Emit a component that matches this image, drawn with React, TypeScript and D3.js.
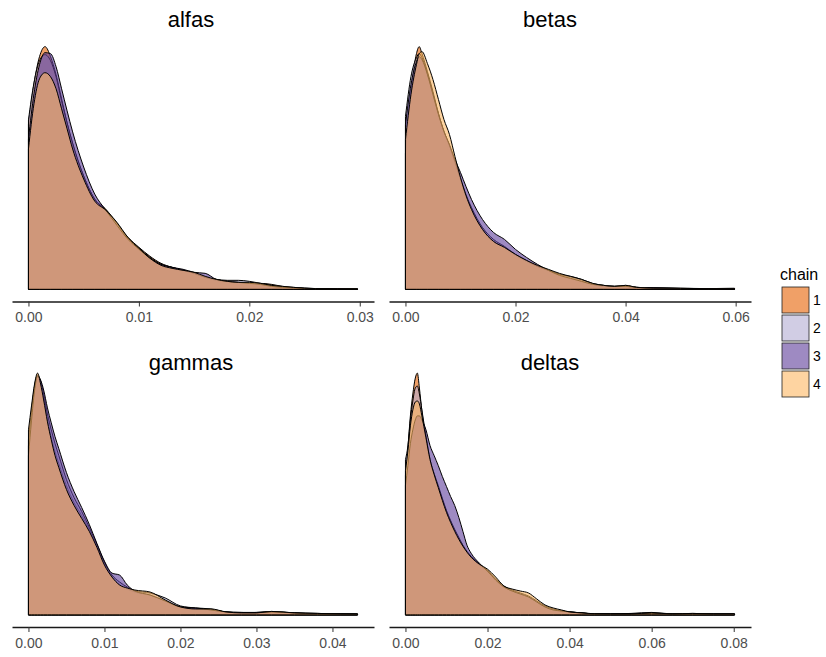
import React, { useRef, useEffect } from "react";
import * as d3 from "d3";

// chain colours (PuOr) and names
const chains = ["1", "2", "3", "4"];
const chainColors = ["#e66101", "#b2abd2", "#5e3c99", "#fdb863"];

// alfas: density per chain
const alfasX = [0, 0.0005, 0.001, 0.0015, 0.002, 0.0025, 0.003, 0.0035, 0.004, 0.005, 0.006, 0.007, 0.008, 0.009, 0.010, 0.011, 0.012, 0.013, 0.014, 0.015, 0.016, 0.017, 0.018, 0.019, 0.020, 0.021, 0.022, 0.023, 0.024, 0.025, 0.026, 0.028, 0.0298];
const alfas1 = [165, 205, 232, 242, 232, 214, 190, 166, 145, 113, 90, 80, 66, 52, 42, 33, 26, 22, 19, 16, 12, 9, 8, 7, 6, 6, 5, 3, 2, 1.2, 0.8, 0.5, 0.4];
const alfas2 = [169, 206, 228, 234, 228, 212, 188, 166, 146, 113, 90, 79, 66, 51, 41, 32, 25, 22, 19, 16, 12, 10, 9, 9, 8, 6, 4, 2.5, 1.5, 1, 0.8, 0.6, 0.5];
const alfas3 = [150, 195, 224, 236, 235, 222, 200, 178, 157, 122, 95, 79, 64, 50, 40, 31, 25, 22, 20, 17, 16, 10, 8, 7, 6, 5, 3, 2, 1.5, 1, 0.7, 0.5, 0.3];
const alfas4 = [140, 185, 210, 216, 212, 200, 180, 160, 140, 110, 88, 79, 67, 52, 41, 31, 24, 21, 19, 17, 13, 10, 8, 7, 7, 6, 4, 3, 2, 1.2, 0.8, 0.6, 0.5];
const alfasTicks = [0, 0.01, 0.02, 0.03];

// betas
const betasX = [0, 0.001, 0.002, 0.0025, 0.003, 0.004, 0.005, 0.006, 0.007, 0.008, 0.009, 0.010, 0.011, 0.012, 0.014, 0.016, 0.018, 0.020, 0.022, 0.024, 0.026, 0.028, 0.030, 0.032, 0.034, 0.036, 0.038, 0.040, 0.042, 0.045, 0.050, 0.055, 0.0598];
const betas1 = [136, 198, 236, 243, 236, 218, 198, 176, 158, 144, 127, 110, 93, 80, 60, 48, 42, 34, 28, 23, 19, 15, 12, 9, 5, 3, 3, 4, 2, 1.5, 1, 0.7, 0.8];
const betas2 = [173, 213, 232, 236, 232, 216, 196, 176, 158, 144, 128, 111, 95, 82, 62, 50, 43, 35, 29, 23, 19, 15, 13, 10, 6, 4, 3, 3, 2, 1.5, 1, 0.8, 1];
const betas3 = [165, 205, 228, 233, 230, 215, 195, 175, 158, 145, 130, 117, 103, 90, 70, 57, 50, 40, 32, 25, 19, 14, 11, 8, 5, 4, 3, 3, 2, 1.5, 1, 0.8, 1];
const betas4 = [150, 195, 225, 236, 238, 226, 210, 190, 170, 155, 133, 112, 94, 80, 60, 48, 42, 35, 29, 24, 20, 16, 13, 10, 6, 4, 3, 4, 2, 1.2, 1, 0.7, 0.6];
const betasTicks = [0, 0.02, 0.04, 0.06];

// gammas
const gammasX = [0, 0.0004, 0.0008, 0.0012, 0.0016, 0.002, 0.0025, 0.003, 0.0035, 0.004, 0.005, 0.006, 0.007, 0.008, 0.009, 0.010, 0.011, 0.012, 0.013, 0.014, 0.016, 0.018, 0.020, 0.022, 0.024, 0.026, 0.028, 0.030, 0.032, 0.035, 0.038, 0.041, 0.0433];
const gammas1 = [170, 200, 228, 240, 232, 218, 196, 178, 164, 152, 130, 113, 100, 86, 70, 52, 38, 30, 26, 23, 20, 14, 8, 6, 5, 3, 2, 2.5, 3.5, 2, 1.5, 1, 0.8];
const gammas2 = [176, 205, 230, 241, 235, 222, 202, 186, 172, 160, 136, 118, 104, 88, 71, 53, 40, 33, 28, 24, 22, 17, 9, 7, 6, 3, 2.5, 2, 3, 2, 1.5, 1, 1];
const gammas3 = [160, 195, 225, 240, 236, 226, 208, 193, 179, 167, 143, 124, 108, 91, 72, 54, 42, 40, 30, 24, 20, 14, 8, 7, 5, 3, 2.5, 2.5, 3, 2, 1, 1, 1];
const gammas4 = [186, 210, 232, 243, 232, 216, 194, 176, 160, 148, 126, 110, 97, 84, 68, 50, 38, 30, 27, 25, 23, 15, 8, 6, 6, 3, 2, 2, 3.5, 2, 1.5, 1, 0.8];
const gammasTicks = [0, 0.01, 0.02, 0.03, 0.04];

// deltas
const deltasX = [0, 0.0006, 0.0012, 0.0018, 0.0024, 0.0029, 0.0034, 0.004, 0.005, 0.006, 0.007, 0.008, 0.009, 0.010, 0.011, 0.012, 0.013, 0.014, 0.015, 0.016, 0.018, 0.020, 0.022, 0.024, 0.026, 0.028, 0.030, 0.032, 0.034, 0.036, 0.038, 0.040, 0.043, 0.046, 0.050, 0.055, 0.060, 0.065, 0.070, 0.075, 0.0802];
const deltas1 = [140, 168, 200, 222, 238, 243, 228, 205, 176, 154, 140, 128, 116, 104, 94, 85, 77, 70, 63, 58, 50, 45, 35, 28, 24, 21, 18, 13, 8, 5, 4, 3, 2, 1, 1, 1.2, 2, 1, 1, 0.8, 0.8];
const deltas2 = [156, 170, 196, 215, 228, 230, 222, 206, 180, 156, 142, 130, 117, 105, 95, 86, 78, 70, 64, 59, 51, 44, 36, 29, 25, 22, 19, 14, 9, 6, 4, 3, 2, 1.2, 1, 1.5, 2.5, 1, 1.5, 1, 1];
const deltas3 = [130, 150, 172, 186, 196, 200, 200, 196, 186, 170, 160, 150, 139, 129, 119, 110, 98, 84, 70, 62, 52, 44, 35, 28, 24, 21, 18, 13, 8, 5, 4, 3, 2, 1, 1, 1, 1.5, 1, 1, 1, 1];
const deltas4 = [145, 165, 190, 206, 214, 215, 212, 200, 178, 156, 141, 128, 115, 103, 93, 84, 76, 69, 63, 58, 51, 46, 38, 29, 26, 24, 22, 16, 10, 7, 5, 3, 2, 1.2, 1, 1, 2, 1, 1.5, 1, 1];
const deltasTicks = [0, 0.02, 0.04, 0.06, 0.08];

const panels = [
  { name: "alfas", xs: alfasX, dens: [alfas1, alfas2, alfas3, alfas4], ticks: alfasTicks, col: 0, row: 0 },
  { name: "betas", xs: betasX, dens: [betas1, betas2, betas3, betas4], ticks: betasTicks, col: 1, row: 0 },
  { name: "gammas", xs: gammasX, dens: [gammas1, gammas2, gammas3, gammas4], ticks: gammasTicks, col: 0, row: 1 },
  { name: "deltas", xs: deltasX, dens: [deltas1, deltas2, deltas3, deltas4], ticks: deltasTicks, col: 1, row: 1 },
];

const W = 826;
const H = 657;
const FONT = "'Liberation Sans', Arial, sans-serif";
const ALPHA = 0.6;

// panel boxes
const colX = [[12, 374], [389, 751]];
const rowY = [[34.5, 301.5], [361, 627]];
const titleX = [191, 550];
const titleY = [27, 370];

const App = () => {
  const svgRef = useRef<SVGSVGElement>(null);

  useEffect(() => {
    const svg = d3.select(svgRef.current);
    svg.selectAll("*").remove();

    svg.append("rect").attr("width", W).attr("height", H).attr("fill", "#fff");

    panels.forEach(p => {
      const [x0, x1] = colX[p.col];
      const [y0, y1] = rowY[p.row];
      const lo = d3.min(p.xs) as number;
      const hi = d3.max(p.xs) as number;
      const pad = (hi - lo) * 0.05;
      const x = d3.scaleLinear().domain([lo - pad, hi + pad]).range([x0, x1]);
      const ymax = d3.max(p.dens.flat()) as number;
      const y = d3.scaleLinear().domain([-0.05 * ymax, 1.05 * ymax]).range([y1, y0]);

      const g = svg.append("g");

      // densities, chain 1 first
      p.dens.forEach((d, c) => {
        const area = d3.area<number>()
          .x((_, i) => x(p.xs[i]))
          .y0(y(0))
          .y1(v => y(v))
          .curve(d3.curveMonotoneX);
        g.append("path")
          .attr("d", area(d))
          .attr("fill", chainColors[c])
          .attr("fill-opacity", ALPHA)
          .attr("stroke", "#000")
          .attr("stroke-width", 1)
          .attr("stroke-linejoin", "round");
      });

      // x axis
      const axis = g.append("g")
        .attr("transform", `translate(0,${y1})`)
        .call(d3.axisBottom(x).tickValues(p.ticks).tickFormat(d3.format(".2f")).tickSize(5).tickSizeOuter(0).tickPadding(6));
      axis.select(".domain").attr("stroke", "#1a1a1a").attr("stroke-width", 1.5);
      axis.selectAll(".tick line").attr("stroke", "#333").attr("stroke-width", 1);
      axis.selectAll(".tick text")
        .attr("fill", "#4d4d4d")
        .style("font-family", FONT)
        .style("font-size", "14px");

      // title
      svg.append("text")
        .attr("x", titleX[p.col])
        .attr("y", titleY[p.row])
        .attr("text-anchor", "middle")
        .style("font-family", FONT)
        .style("font-size", "22px")
        .attr("fill", "#000")
        .text(p.name);
    });

    // legend
    const lg = svg.append("g");
    lg.append("text")
      .attr("x", 780)
      .attr("y", 280)
      .style("font-family", FONT)
      .style("font-size", "16px")
      .text("chain");
    chains.forEach((c, i) => {
      const ky = 287 + i * 28;
      lg.append("rect")
        .attr("x", 782)
        .attr("y", ky)
        .attr("width", 27)
        .attr("height", 26)
        .attr("fill", chainColors[i])
        .attr("fill-opacity", ALPHA)
        .attr("stroke", "#222")
        .attr("stroke-width", 0.8);
      lg.append("text")
        .attr("x", 813)
        .attr("y", ky + 13)
        .attr("dy", "0.35em")
        .style("font-family", FONT)
        .style("font-size", "14px")
        .text(c);
    });
  }, []);

  return (
    <svg ref={svgRef} width={W} height={H} style={{ position: "absolute", left: 0, top: 0 }} />
  );
};

export default App;
